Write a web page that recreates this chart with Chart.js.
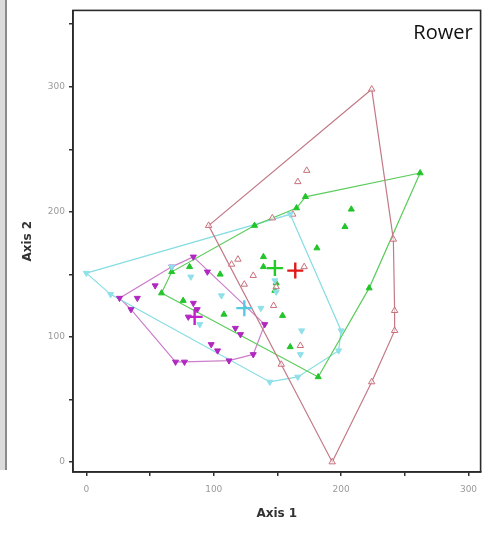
<!DOCTYPE html>
<html><head><meta charset="utf-8">
<script src="https://cdn.jsdelivr.net/npm/chart.js@4.4.1/dist/chart.umd.min.js"></script>
<style>
html,body{margin:0;padding:0;background:#fff;width:491px;height:541px;overflow:hidden;}
#wrap{position:absolute;left:0;top:0;width:491px;height:541px;}
#lbar{position:absolute;left:0;top:0;width:5px;height:470px;background:#dcdcdc;border-right:2px solid #8a8a8a;}
</style></head>
<body>
<div id="lbar"></div>
<div id="wrap"><canvas id="c" width="491" height="541"></canvas></div>
<script>
// ---- data ----
const xTicks = [0, 50, 100, 150, 200, 250, 300];
const yTicks = [0, 50, 100, 150, 200, 250, 300, 350];
const tickLabelsEvery = 100;

const redX = [224, 241, 242, 224, 193, 153, 96, 173, 166, 146, 162, 119, 114, 124, 131, 171, 149, 147, 168, 242];
const redY = [298, 178, 105, 64, 0, 78, 189, 233, 224, 195, 198, 162, 158, 142, 149, 156, 140, 125, 93, 121];
const redHull = [0, 1, 19, 2, 3, 4, 5, 6, 0];

const greenX = [262, 222, 182, 59, 67, 132, 165, 172, 208, 203, 181, 139, 139, 148, 149, 105, 81, 76, 108, 154, 160];
const greenY = [231, 139, 68, 135, 152, 189, 203, 212, 202, 188, 171, 164, 156, 137, 143, 150, 156, 129, 118, 117, 92];
const greenHull = [0, 1, 2, 3, 4, 5, 6, 7, 0];

const cyanX = [0, 160, 200, 198, 166, 144, 19, 67, 82, 106, 89, 137, 148, 169, 168, 149];
const cyanY = [151, 198, 105, 89, 68, 64, 134, 156, 148, 133, 110, 123, 145, 105, 86, 136];
const cyanHull = [0, 1, 2, 3, 4, 5, 6, 0];

const magX = [84, 140, 131, 112, 77, 70, 35, 26, 67, 40, 54, 95, 84, 87, 80, 117, 121, 98, 103];
const magY = [164, 110, 86, 81, 80, 80, 122, 131, 156, 131, 141, 152, 127, 122, 116, 107, 102, 94, 89];
const magHull = [0, 1, 2, 3, 4, 5, 6, 7, 8, 0];

const centroidX = [164, 148, 124, 85];
const centroidY = [153, 155, 123, 116];

const groupName = ['red', 'green', 'cyan', 'magenta'];
const chartLabel = 'Rower';
const xTitle = 'Axis 1';
const yTitle = 'Axis 2';

// ---- build ----
const pts = (X, Y) => X.map((x, i) => ({x: x, y: Y[i]}));
const hull = (X, Y, idx) => idx.map(i => ({x: X[i], y: Y[i]}));

const col = {
  red:     {line: '#c27a86', pt: '#c8707c', plus: '#e01818'},
  green:   {line: '#5ccc5c', pt: '#22c42a', plus: '#22cc22'},
  cyan:    {line: '#86dde2', pt: '#8fe0e8', plus: '#55ccdd'},
  magenta: {line: '#cc7fcc', pt: '#b028c0', plus: '#c020c8'}
};

function hullDs(X, Y, idx, c) {
  return {data: hull(X, Y, idx), showLine: true, pointRadius: 0, borderColor: c, borderWidth: 1.2, fill: false, tension: 0, order: 5};
}
function ptDs(X, Y, c, opts) {
  return Object.assign({data: pts(X, Y), showLine: false, pointStyle: 'triangle', pointRadius: 3.5,
    pointBackgroundColor: c, pointBorderColor: c, pointBorderWidth: 1, order: 3}, opts || {});
}

const datasets = [
  hullDs(redX, redY, redHull, col.red.line),
  hullDs(greenX, greenY, greenHull, col.green.line),
  hullDs(cyanX, cyanY, cyanHull, col.cyan.line),
  hullDs(magX, magY, magHull, col.magenta.line),
  ptDs(cyanX, cyanY, col.cyan.pt, {rotation: 180}),
  ptDs(redX, redY, col.red.pt, {pointBackgroundColor: 'rgba(255,255,255,0.6)', pointRadius: 3.7}),
  ptDs(greenX, greenY, col.green.pt),
  ptDs(magX, magY, col.magenta.pt, {rotation: 180}),
  {data: pts(centroidX, centroidY), showLine: false, pointStyle: 'cross', pointRadius: 8, pointBorderWidth: 2.4,
   pointBorderColor: groupName.map(g => col[g].plus), pointBackgroundColor: groupName.map(g => col[g].plus), order: 1}
];

const framePlugin = {
  id: 'frame',
  afterDatasetsDraw(chart) {
    const {ctx, chartArea: a} = chart;
    ctx.save();
    ctx.strokeStyle = '#2a2a2a';
    ctx.lineWidth = 1.6;
    ctx.strokeRect(a.left, a.top, a.right - a.left, a.bottom - a.top);
    ctx.fillStyle = '#111';
    ctx.font = '20px "Open Sans", "Liberation Sans", sans-serif';
    ctx.textAlign = 'right';
    ctx.textBaseline = 'alphabetic';
    ctx.fillText(chartLabel, a.right - 8, a.top + 29);
    ctx.restore();
  }
};

new Chart(document.getElementById('c'), {
  type: 'scatter',
  data: {datasets: datasets},
  plugins: [framePlugin],
  options: {
    responsive: false,
    animation: false,
    layout: {padding: {left: 19, top: 10, right: 6, bottom: 18}},
    plugins: {legend: {display: false}, tooltip: {enabled: false}, title: {display: false}},
    scales: {
      x: {
        type: 'linear', min: -10.5, max: 309.5,
        afterBuildTicks: s => { s.ticks = xTicks.map(v => ({value: v})); },
        afterFit: s => { s.height = 51; },
        ticks: {callback: v => (v % tickLabelsEvery === 0 ? String(v) : ''), color: '#9a9a9a',
                font: {size: 9, family: 'DejaVu Sans'}, padding: 8, maxRotation: 0, autoSkip: false},
        grid: {drawOnChartArea: false, tickLength: 4, color: '#333', lineWidth: 1.5},
        border: {display: true, color: '#2a2a2a', width: 1.6},
        title: {display: true, text: xTitle, color: '#333', font: {size: 12, weight: 'bold', family: 'DejaVu Sans'}, padding: {top: 2, bottom: 2}}
      },
      y: {
        type: 'linear', min: -8, max: 361,
        afterBuildTicks: s => { s.ticks = yTicks.map(v => ({value: v})); },
        afterFit: s => { s.width = 54; },
        ticks: {callback: v => (v % tickLabelsEvery === 0 ? String(v) : ''), color: '#9a9a9a',
                font: {size: 9, family: 'DejaVu Sans'}, padding: 4, autoSkip: false},
        grid: {drawOnChartArea: false, tickLength: 4, color: '#333', lineWidth: 1.5},
        border: {display: true, color: '#2a2a2a', width: 1.6},
        title: {display: true, text: yTitle, color: '#333', font: {size: 12, weight: 'bold', family: 'DejaVu Sans'}, padding: {top: 2, bottom: 2}}
      }
    }
  }
});
</script>
</body></html>
